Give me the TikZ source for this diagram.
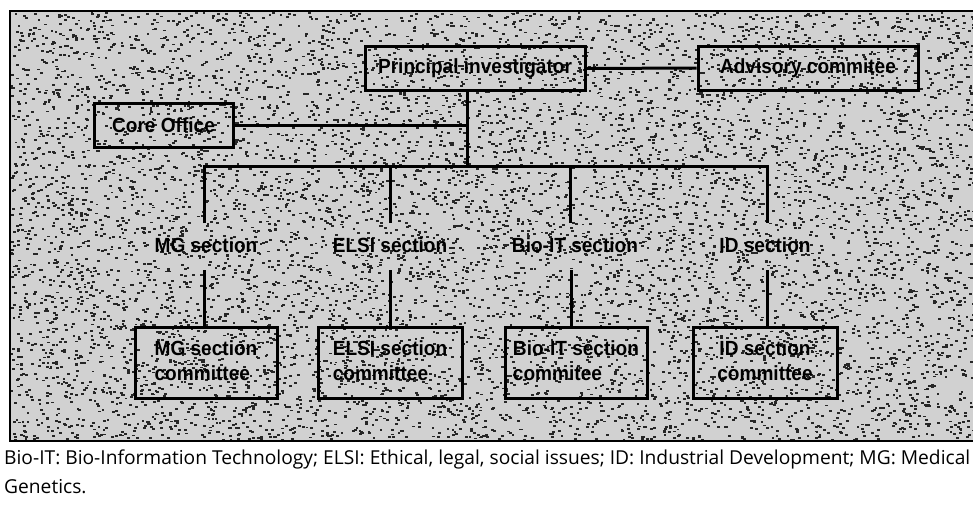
\documentclass[tikz,border=0pt]{standalone}
\usepackage{fontspec}
\setmainfont{Liberation Sans}
\newfontfamily\capfont{Open Sans}
\newcommand{\hsq}[1]{\scalebox{0.93}[1]{#1}}
\begin{document}
\begin{tikzpicture}[x=1pt,y=-1pt,
  box/.style={draw, line width=3pt, minimum height=44pt, inner sep=0pt, font=\fontsize{20.5}{24}\selectfont\bfseries},
  lbl/.style={font=\fontsize{20.5}{24}\selectfont\bfseries, inner sep=0pt},
  cbox/.style={draw, line width=3pt, minimum height=71pt, inner sep=0pt, font=\fontsize{20.5}{25}\selectfont\bfseries},
  conn/.style={line width=3pt},
  capt/.style={font=\capfont\fontsize{19.2}{29}\selectfont, inner sep=0pt, anchor=base west},
]
\useasboundingbox (0,0) rectangle (973,506);
% speckled background
\fill[black!18] (10,11) rectangle (990,441);
\pgfmathsetseed{42}
\foreach \i in {1,...,9000}{%
  \pgfmathsetmacro\px{10+975*rnd}%
  \pgfmathsetmacro\py{12+427*rnd}%
  \fill[black!85] (\px,\py) rectangle ++(2.8,1.9);
}
\draw[line width=2.4pt] (990,11) -- (10,11) -- (10,441) -- (990,441);

% nodes
\node[box, minimum width=220pt] (pi) at (475,68.5) {\hsq{Principal investigator}};
\node[box, minimum width=220pt] (adv) at (808,68) {\hsq{Advisory commitee}};
\node[box, minimum width=139pt] (core) at (163.5,125) {\hsq{Core Office}};

\node[lbl] (mg) at (206,245) {\hsq{MG section}};
\node[lbl] (elsi) at (390,245) {\hsq{ELSI section}};
\node[lbl] (bio) at (575,245) {\hsq{Bio-IT section}};
\node[lbl] (id) at (765,245) {\hsq{ID section}};

\node[cbox, minimum width=142pt] (mgc) at (206,362.5) {\hsq{\begin{tabular}{@{}l@{}}MG section\\committee\end{tabular}}};
\node[cbox, minimum width=144pt] (elsic) at (390,362.5) {\hsq{\begin{tabular}{@{}l@{}}ELSI section\\committee\end{tabular}}};
\node[cbox, minimum width=142pt] (bioc) at (576,362.5) {\hsq{\begin{tabular}{@{}l@{}}Bio-IT section\\commitee\end{tabular}}};
\node[cbox, minimum width=144pt] (idc) at (765,362.5) {\hsq{\begin{tabular}{@{}c@{}}ID section\\committee\end{tabular}}};

% connectors
\coordinate (j) at (467,166);
\coordinate (t1) at (204,223);
\coordinate (t2) at (390,223);
\coordinate (t3) at (570,223);
\coordinate (t4) at (767,223);
\coordinate (s1) at (204,270);
\coordinate (s2) at (390,270);
\coordinate (s3) at (571,270);
\coordinate (s4) at (767,270);

\draw[conn] (pi.east) -- (adv.west);
\draw[conn] (pi.south -| j) -- (j);
\draw[conn] (core.east) -- (core.east -| j);
\draw[conn] (t1) -- (t1 |- j) -- (t4 |- j) -- (t4);
\draw[conn] (t2) -- (t2 |- j);
\draw[conn] (t3) -- (t3 |- j);
\draw[conn] (s1) -- (s1 |- mgc.north);
\draw[conn] (s2) -- (s2 |- elsic.north);
\draw[conn] (s3) -- (s3 |- bioc.north);
\draw[conn] (s4) -- (s4 |- idc.north);

% caption
\node[capt] (cap1) at (4,464) {Bio-IT: Bio-Information Technology; ELSI: Ethical, legal, social issues; ID: Industrial Development; MG: Medical};
\node[capt] (cap2) at (4,493) {Genetics.};
\end{tikzpicture}
\end{document}
